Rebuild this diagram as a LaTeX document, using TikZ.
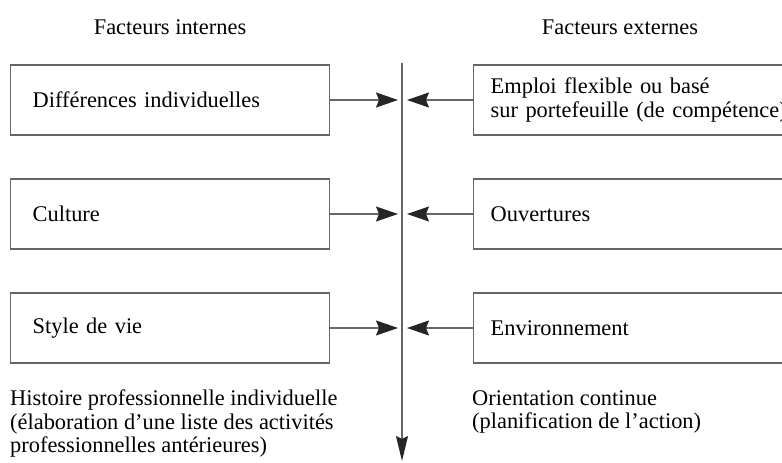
\documentclass[tikz,border=0pt]{standalone}
\usepackage{fontspec}
\setmainfont{Liberation Serif}
\newfontfamily\facteurfont{Liberation Serif}
\usetikzlibrary{arrows.meta}

\tikzset{
  trait/.style={draw=black!60, line width=1.4pt},
  cadre/.style={trait, anchor=west, minimum height=70pt, align=left, inner ysep=0pt},
  interne/.style={cadre, inner xsep=22pt, text width=275pt},
  externe/.style={cadre, inner xsep=17pt, text width=300pt},
  fleche/.style={trait, -{Stealth[length=22pt,width=15pt,inset=3pt,color=black!85]}},
  legende/.style={anchor=north west, align=left, inner sep=0pt},
}

\begin{document}
\begin{tikzpicture}[x=1pt,y=-1pt,font=\facteurfont\fontsize{22.4}{23.5}\selectfont]
  \clip (0,0) rectangle (782,463);
  % titles
  \node (titreint) at (170,27) {Facteurs internes};
  \node (titreext) at (620,27) {Facteurs externes};
  % central axis
  \coordinate (haut) at (402,63);
  \coordinate (bas) at (402,461);
  \draw[trait, -{Stealth[length=25pt,width=12pt,inset=3pt,color=black!85]}] (haut) -- (bas);
  % factor boxes and arrows
  \foreach \i/\y/\gauche/\droite in {1/100/Différences individuelles/Emploi flexible ou basé\\sur portefeuille (de compétence),
      2/214/Culture/Ouvertures, 3/328/Style de vie/Environnement} {
    \node[interne] (int\i) at (10,\y) {\gauche};
    \node[externe] (ext\i) at (473,\y) {\droite};
    \draw[fleche, shorten >=4pt] (int\i.east) -- (int\i.east -| haut);
    \draw[fleche, shorten >=5pt] (ext\i.west) -- (ext\i.west -| haut);
  }
  % bottom notes
  \node[legende] (histoire) at (10,390) {Histoire professionnelle individuelle\\(élaboration d’une liste des activités\\professionnelles antérieures)};
  \node[legende] (orientation) at (472,390) {Orientation continue\\(planification de l’action)};
\end{tikzpicture}
\end{document}
